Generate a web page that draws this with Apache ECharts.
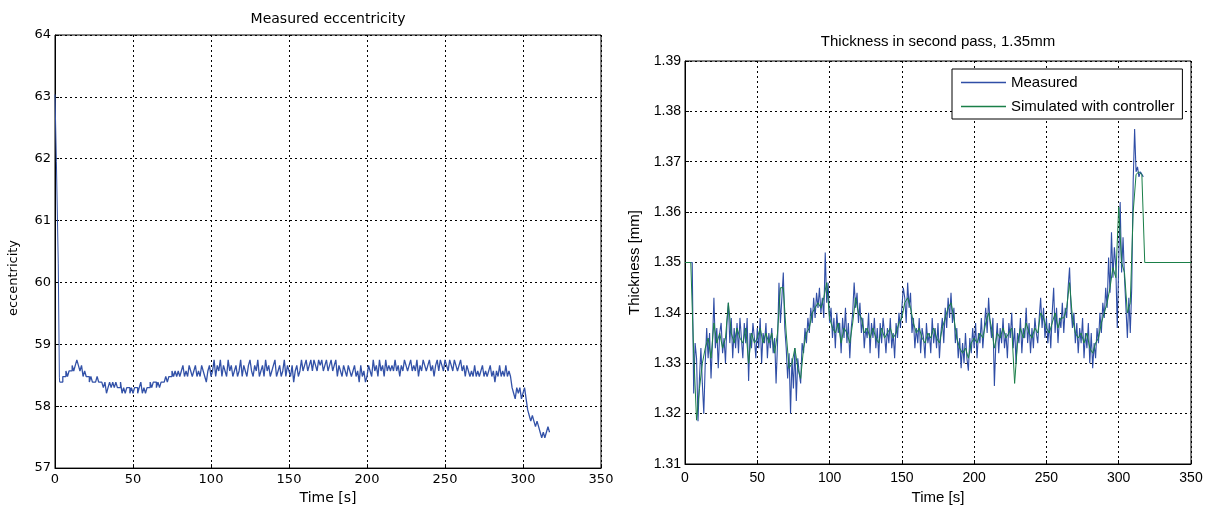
<!DOCTYPE html>
<html><head><meta charset="utf-8">
<script src="https://cdn.jsdelivr.net/npm/echarts@6/dist/echarts.min.js"></script>
<style>html,body{margin:0;padding:0;background:#fff}#c{width:1209px;height:510px}</style>
</head><body><div id="c"></div>
<script>
// ---- Left chart: measured eccentricity ----
const eccHead = [[0,63.04],[0.9,61.95],[2.1,60.3],[2.8,58.47]];
const eccStart = 3; // seconds, 1 s sampling
const eccValues = [
58.39,58.39,58.48,58.48,58.57,58.48,58.57,58.57,58.66,58.57,
58.66,58.75,58.66,58.57,58.66,58.48,58.57,58.48,58.48,58.39,
58.48,58.39,58.39,58.39,58.48,58.39,58.39,58.39,58.30,58.39,
58.21,58.30,58.39,58.30,58.39,58.30,58.39,58.30,58.30,58.39,
58.21,58.30,58.21,58.30,58.30,58.21,58.30,58.21,58.30,58.30,
58.21,58.30,58.39,58.21,58.30,58.21,58.30,58.30,58.39,58.30,
58.39,58.39,58.30,58.39,58.30,58.39,58.39,58.39,58.48,58.39,
58.48,58.48,58.57,58.48,58.57,58.48,58.57,58.48,58.57,58.66,
58.48,58.57,58.48,58.66,58.57,58.48,58.57,58.66,58.48,58.57,
58.48,58.66,58.57,58.48,58.39,58.57,58.66,58.48,58.57,58.75,
58.48,58.66,58.57,58.75,58.48,58.66,58.57,58.48,58.75,58.57,
58.66,58.48,58.57,58.66,58.48,58.57,58.75,58.48,58.66,58.57,
58.48,58.66,58.75,58.57,58.48,58.66,58.57,58.75,58.48,58.57,
58.66,58.48,58.75,58.57,58.66,58.48,58.57,58.66,58.75,58.48,
58.57,58.66,58.48,58.57,58.75,58.48,58.66,58.57,58.48,58.66,
58.39,58.57,58.66,58.48,58.57,58.75,58.57,58.66,58.75,58.57,
58.66,58.75,58.57,58.75,58.66,58.57,58.75,58.66,58.75,58.57,
58.66,58.75,58.57,58.66,58.75,58.57,58.66,58.75,58.48,58.66,
58.57,58.48,58.66,58.57,58.48,58.66,58.57,58.48,58.57,58.66,
58.48,58.57,58.39,58.66,58.48,58.57,58.39,58.48,58.66,58.57,
58.48,58.75,58.57,58.66,58.48,58.75,58.57,58.66,58.48,58.75,
58.57,58.66,58.57,58.66,58.57,58.75,58.57,58.66,58.48,58.66,
58.57,58.75,58.66,58.57,58.66,58.75,58.57,58.66,58.57,58.75,
58.48,58.66,58.57,58.75,58.66,58.57,58.66,58.75,58.57,58.66,
58.48,58.66,58.75,58.57,58.75,58.66,58.57,58.75,58.66,58.57,
58.75,58.66,58.57,58.75,58.66,58.57,58.66,58.75,58.57,58.66,
58.48,58.66,58.57,58.48,58.57,58.48,58.66,58.48,58.57,58.48,
58.57,58.66,58.48,58.57,58.48,58.57,58.66,58.48,58.57,58.39,
58.57,58.48,58.66,58.48,58.57,58.48,58.66,58.48,58.57,58.48,
58.30,58.21,58.12,58.30,58.21,58.30,58.12,58.21,58.30,58.12,
57.94,57.85,57.76,57.85,57.76,57.67,57.76,57.67,57.58,57.49,
57.58,57.49,57.58,57.67,57.58
];
const eccYTicks = [57,58,59,60,61,62,63,64];

// ---- Right chart: thickness ----
const measHead = [[0,1.35]];
const measStart = 5; // 1 s sampling
const measValues = [
1.35,1.324,1.334,1.331,1.3185,1.327,1.333,1.326,1.32,1.33,
1.337,1.331,1.336,1.327,1.334,1.343,1.333,1.337,1.329,1.336,
1.338,1.332,1.335,1.33,1.338,1.342,1.334,1.339,1.331,1.337,
1.333,1.338,1.332,1.339,1.335,1.331,1.338,1.334,1.339,1.3265,
1.336,1.333,1.338,1.335,1.331,1.337,1.333,1.339,1.33,1.336,
1.334,1.338,1.331,1.336,1.333,1.337,1.332,1.335,1.326,1.334,
1.346,1.338,1.343,1.348,1.337,1.333,1.327,1.332,1.32,1.331,
1.325,1.333,1.3225,1.331,1.328,1.326,1.334,1.332,1.337,1.334,
1.339,1.336,1.341,1.338,1.343,1.339,1.344,1.341,1.345,1.34,
1.343,1.339,1.352,1.342,1.346,1.338,1.341,1.335,1.339,1.333,
1.34,1.336,1.338,1.332,1.339,1.335,1.341,1.334,1.338,1.331,
1.337,1.34,1.346,1.341,1.344,1.338,1.342,1.336,1.339,1.333,
1.337,1.335,1.34,1.332,1.338,1.335,1.339,1.333,1.337,1.331,
1.338,1.334,1.339,1.336,1.332,1.337,1.334,1.339,1.333,1.336,
1.331,1.338,1.335,1.34,1.337,1.341,1.345,1.343,1.338,1.346,
1.341,1.344,1.336,1.339,1.333,1.337,1.334,1.339,1.332,1.337,
1.335,1.331,1.338,1.334,1.336,1.332,1.339,1.334,1.337,1.333,
1.338,1.331,1.336,1.339,1.334,1.341,1.337,1.343,1.339,1.344,
1.338,1.341,1.334,1.337,1.331,1.335,1.329,1.334,1.33,1.336,
1.331,1.3285,1.335,1.332,1.337,1.333,1.338,1.331,1.336,1.334,
1.339,1.333,1.337,1.341,1.336,1.343,1.338,1.335,1.339,1.3255,
1.334,1.338,1.332,1.337,1.334,1.339,1.333,1.336,1.331,1.338,
1.335,1.34,1.333,1.337,1.33,1.336,1.334,1.339,1.332,1.337,
1.335,1.341,1.334,1.338,1.332,1.337,1.333,1.339,1.336,1.334,
1.339,1.343,1.337,1.341,1.335,1.339,1.334,1.338,1.333,1.34,
1.345,1.336,1.341,1.334,1.339,1.337,1.342,1.336,1.341,1.339,
1.345,1.349,1.341,1.337,1.34,1.334,1.338,1.332,1.337,1.334,
1.339,1.331,1.336,1.333,1.338,1.33,1.336,1.329,1.334,1.331,
1.337,1.334,1.34,1.336,1.342,1.339,1.345,1.341,1.351,1.344,
1.356,1.347,1.353,1.349,1.337,1.35,1.362,1.348,1.355,1.347,
1.341,1.335,1.343,1.336,1.345,1.366,1.3765,1.368,1.369,1.367,
1.368,1.368,1.367
];
const simHead = [[0,1.35],[4,1.35]];
const simStart = 6, simStep = 2;
const simValues = [
1.332,1.3187,1.325,1.33,1.333,1.335,1.331,1.338,1.334,1.336,
1.333,1.335,1.342,1.336,1.334,1.337,1.335,1.334,1.337,1.33,
1.336,1.334,1.335,1.337,1.334,1.336,1.334,1.336,1.332,1.336,
1.345,1.345,1.336,1.329,1.33,1.333,1.329,1.327,1.333,1.336,
1.337,1.34,1.341,1.342,1.341,1.343,1.346,1.339,1.337,1.336,
1.338,1.334,1.337,1.336,1.334,1.338,1.343,1.34,1.339,1.336,
1.337,1.335,1.337,1.335,1.334,1.337,1.335,1.336,1.337,1.335,
1.336,1.338,1.339,1.342,1.343,1.341,1.338,1.336,1.337,1.335,
1.334,1.336,1.335,1.337,1.335,1.334,1.337,1.339,1.341,1.342,
1.339,1.335,1.333,1.332,1.333,1.331,1.334,1.335,1.334,1.336,
1.335,1.338,1.34,1.337,1.333,1.336,1.335,1.337,1.335,1.336,
1.337,1.326,1.334,1.337,1.335,1.338,1.336,1.335,1.337,1.336,
1.34,1.339,1.337,1.336,1.338,1.34,1.337,1.339,1.339,1.341,
1.346,1.339,1.336,1.335,1.336,1.334,1.336,1.333,1.332,1.334,
1.335,1.338,1.34,1.342,1.345,1.349,1.347,1.361,1.35,1.348,
1.34,1.342,1.36,1.3675,1.368,1.3675
];
const simTail = [[317,1.3675],[318,1.35],[350,1.35]];
const thickYTicks = [1.31,1.32,1.33,1.34,1.35,1.36,1.37,1.38,1.39];
const xTicks = [0,50,100,150,200,250,300,350];

const seriesNames = ['Measured','Simulated with controller'];

function build(head, start, step, vals, tail){
  const out = head.slice();
  vals.forEach((v,i)=>out.push([start + i*step, v]));
  return tail ? out.concat(tail) : out;
}
const eccHeadData = eccHead.concat([[eccStart, eccValues[0]]]);
const eccBodyData = build([], eccStart, 1, eccValues);
const measData = build(measHead, measStart, 1, measValues);
const simData = build(simHead, simStart, simStep, simValues, simTail);

const FONT = 'Liberation Sans, Arial, sans-serif';
const FONT_L = 'DejaVu Sans, sans-serif';
const gridLine = {show:true, lineStyle:{color:'#000', type:[2,3], width:1}};
const axLine = {show:true, lineStyle:{color:'#000', width:1}};
const tick = {show:true, inside:true, length:4, lineStyle:{color:'#000'}};
const blueL = '#3352a8', blueR = '#2f4ea6', green = '#1a7f48';

const chart = echarts.init(document.getElementById('c'), null, {renderer:'canvas'});
chart.setOption({
  animation:false,
  backgroundColor:'#fff',
  textStyle:{fontFamily:FONT},
  grid:[
    {left:55, top:35, width:546, height:438, show:true, borderColor:'#000', borderWidth:1, backgroundColor:'#fff'},
    {left:685, top:61, width:506, height:407, show:true, borderColor:'#000', borderWidth:1, backgroundColor:'#fff'}
  ],
  xAxis:[
    {gridIndex:0, type:'value', min:xTicks[0], max:xTicks[xTicks.length-1], interval:50,
     axisLine:axLine, axisTick:tick, splitLine:gridLine,
     axisLabel:{color:'#000', fontSize:13, margin:5, fontFamily:FONT_L},
     name:'Time [s]', nameLocation:'middle', nameGap:20, nameTextStyle:{color:'#000', fontSize:14, fontFamily:FONT_L}},
    {gridIndex:1, type:'value', min:xTicks[0], max:xTicks[xTicks.length-1], interval:50,
     axisLine:axLine, axisTick:tick, splitLine:gridLine,
     axisLabel:{color:'#000', fontSize:14, margin:7, fontFamily:FONT},
     name:'Time [s]', nameLocation:'middle', nameGap:26, nameTextStyle:{color:'#000', fontSize:15, fontFamily:FONT}}
  ],
  yAxis:[
    {gridIndex:0, type:'value', min:eccYTicks[0], max:eccYTicks[eccYTicks.length-1], interval:1,
     axisLine:axLine, axisTick:tick, splitLine:gridLine,
     axisLabel:{color:'#000', fontSize:13, margin:4, fontFamily:FONT_L}},
    {gridIndex:1, type:'value', min:thickYTicks[0], max:thickYTicks[thickYTicks.length-1], interval:0.01,
     axisLine:axLine, axisTick:tick, splitLine:gridLine,
     axisLabel:{color:'#000', fontSize:14, margin:4, fontFamily:FONT, formatter:v=>v.toFixed(2)},
     name:'Thickness [mm]', nameLocation:'middle', nameGap:43, nameTextStyle:{color:'#000', fontSize:15, fontFamily:FONT}}
  ],
  legend:{
    data:seriesNames, orient:'vertical', left:952, top:69,
    backgroundColor:'#fff', borderColor:'#000', borderWidth:1, borderRadius:0,
    padding:[5,8,4,9], itemGap:7, itemWidth:45, itemHeight:1.5, icon:'rect',
    textStyle:{color:'#000', fontSize:15, fontFamily:FONT, lineHeight:17}
  },
  series:[
    {type:'line', xAxisIndex:0, yAxisIndex:0, data:eccHeadData, symbol:'none', silent:true,
     lineStyle:{color:blueL, width:1}, itemStyle:{color:blueL}},
    {type:'line', xAxisIndex:0, yAxisIndex:0, data:eccBodyData, symbol:'none', silent:true, step:'end',
     lineStyle:{color:blueL, width:1.3}, itemStyle:{color:blueL}},
    {name:seriesNames[0], type:'line', xAxisIndex:1, yAxisIndex:1, data:measData, symbol:'none', silent:true,
     lineStyle:{color:blueR, width:1.1}, itemStyle:{color:blueR}},
    {name:seriesNames[1], type:'line', xAxisIndex:1, yAxisIndex:1, data:simData, symbol:'none', silent:true,
     lineStyle:{color:green, width:1}, itemStyle:{color:green}}
  ],
  graphic:[
    {type:'text', style:{text:'Measured eccentricity', x:328, y:19, fill:'#000', font:'14px '+FONT_L, textAlign:'center', textVerticalAlign:'middle'}},
    {type:'text', style:{text:'Thickness in second pass, 1.35mm', x:938, y:42, fill:'#000', font:'15px '+FONT, textAlign:'center', textVerticalAlign:'middle'}},
    {type:'text', rotation:Math.PI/2, x:14, y:278, style:{text:'eccentricity', x:0, y:0, fill:'#000', font:'13px '+FONT_L, textAlign:'center', textVerticalAlign:'middle'}}
  ]
});
</script></body></html>
